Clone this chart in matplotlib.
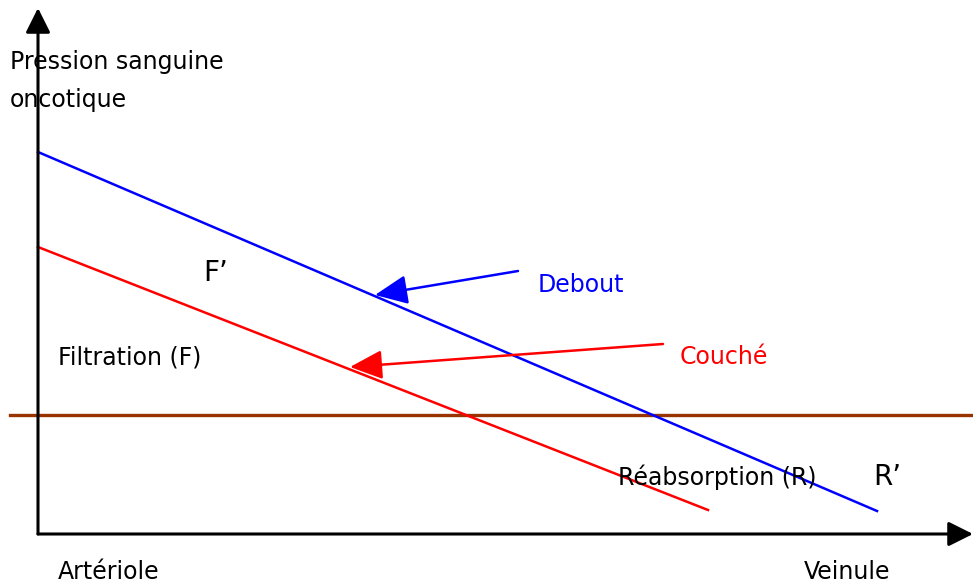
import matplotlib.pyplot as plt

# diagram units: x = distance along the capillary, y = pressure (arbitrary)
debout_x = [0, 839]
debout_y = [382, 23]
couche_x = [0, 670]
couche_y = [287, 24]
oncotique_y = 119
oncotique_x = [-28, 935]

fig = plt.figure(figsize=(9.73, 5.85), dpi=100)
ax = fig.add_axes([0, 0, 1, 1])
ax.set_xlim(-38, 935)
ax.set_ylim(-51, 534)
ax.axis("off")

font = "DejaVu Sans"
fs = 17

# axes drawn as arrows
ax.annotate("", xy=(0, 526), xytext=(0, 0),
            arrowprops=dict(arrowstyle="-|>,head_length=1.5,head_width=0.75",
                            color="black", lw=2.2, shrinkA=0, shrinkB=0))
ax.annotate("", xy=(935, 0), xytext=(0, 0),
            arrowprops=dict(arrowstyle="-|>,head_length=1.5,head_width=0.75",
                            color="black", lw=2.2, shrinkA=0, shrinkB=0))

# pression oncotique
ax.plot(oncotique_x, [oncotique_y, oncotique_y], color="#993300", lw=2.4)

# pression sanguine
ax.plot(debout_x, debout_y, color="#0000ff", lw=1.8)
ax.plot(couche_x, couche_y, color="#ff0000", lw=1.8)

# labels with arrows
ax.annotate("", xy=(337, 239), xytext=(480, 263),
            arrowprops=dict(arrowstyle="-|>,head_length=2.0,head_width=0.9",
                            color="#0000ff", lw=1.8, shrinkA=0, shrinkB=0))
ax.annotate("", xy=(312, 167), xytext=(625, 190),
            arrowprops=dict(arrowstyle="-|>,head_length=2.0,head_width=0.9",
                            color="#ff0000", lw=1.8, shrinkA=0, shrinkB=0))

ax.text(-28, 472, "Pression sanguine", fontsize=fs, family=font, va="center")
ax.text(-28, 434, "oncotique", fontsize=fs, family=font, va="center")
ax.text(165, 261, "F\u2019", fontsize=20, family=font, va="center")
ax.text(500, 249, "Debout", fontsize=fs, family=font, va="center", color="#0000ff")
ax.text(20, 177, "Filtration (F)", fontsize=fs, family=font, va="center")
ax.text(642, 177, "Couch\u00e9", fontsize=fs, family=font, va="center", color="#ff0000")
ax.text(580, 57, "R\u00e9absorption (R)", fontsize=fs, family=font, va="center")
ax.text(835, 57, "R\u2019", fontsize=20, family=font, va="center")
ax.text(20, -38, "Art\u00e9riole", fontsize=fs, family=font, va="center")
ax.text(766, -38, "Veinule", fontsize=fs, family=font, va="center")

plt.savefig("out.png", dpi=100)
